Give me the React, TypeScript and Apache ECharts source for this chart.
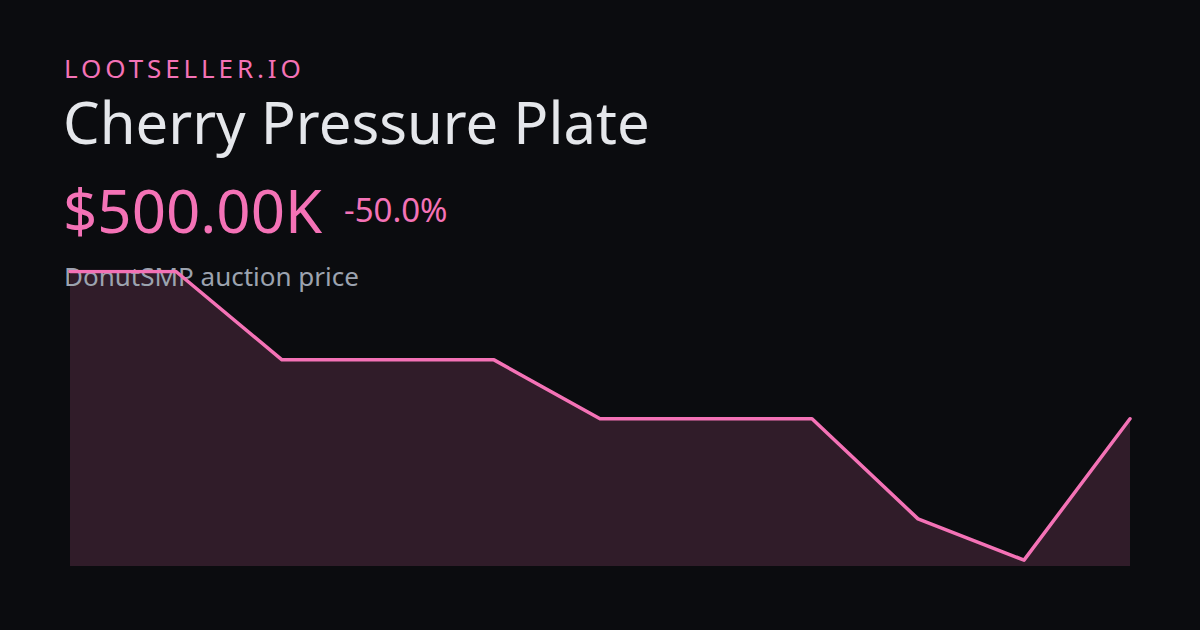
import React, { useEffect, useRef } from "react";
import * as echarts from "echarts";

const categories = ["1", "2", "3", "4", "5", "6", "7", "8", "9", "10", "11"];
const prices = [1000, 1000, 700, 700, 700, 500, 500, 500, 160, 20, 500];

const brand = "LOOTSELLER.IO";
const title = "Cherry Pressure Plate";
const priceLabel = "$500.00K";
const changeLabel = "-50.0%";
const subtitle = "DonutSMP auction price";

const PINK = "#f472b6";
const BG = "#0b0c0f";

export default function App() {
  const ref = useRef<HTMLDivElement>(null);

  useEffect(() => {
    if (!ref.current) return;
    const chart = echarts.init(ref.current, undefined, { renderer: "svg" });
    const font = "'Noto Sans', 'Open Sans', sans-serif";
    chart.setOption({
      animation: false,
      backgroundColor: BG,
      grid: { left: 70, right: 70, top: 271.5, bottom: 64 },
      xAxis: {
        type: "category",
        data: categories,
        boundaryGap: false,
        show: false,
      },
      yAxis: {
        type: "value",
        min: 0,
        max: 1000,
        show: false,
        splitLine: { show: false },
      },
      graphic: [
        {
          type: "text",
          x: 64,
          y: 68,
          z: 2,
          style: {
            text: brand,
            fill: PINK,
            font: `400 26px ${font}`,
            lineHeight: 20,
            verticalAlign: "middle",
          },
        },
        {
          type: "text",
          x: 63,
          y: 121,
          z: 2,
          style: {
            text: title,
            fill: "#e5e7eb",
            font: `400 58px ${font}`,
            lineHeight: 46,
            verticalAlign: "middle",
          },
        },
        {
          type: "text",
          x: 63,
          y: 209.5,
          z: 2,
          style: {
            text: priceLabel,
            fill: PINK,
            font: `400 60px ${font}`,
            lineHeight: 48,
            verticalAlign: "middle",
          },
        },
        {
          type: "text",
          x: 344,
          y: 209.5,
          z: 2,
          style: {
            text: changeLabel,
            fill: PINK,
            font: `400 33px ${font}`,
            lineHeight: 26,
            verticalAlign: "middle",
          },
        },
        {
          type: "text",
          x: 64,
          y: 275.7,
          z: 2,
          style: {
            text: subtitle,
            fill: "#9ca3af",
            font: `400 26px ${font}`,
            lineHeight: 20,
            verticalAlign: "middle",
          },
        },
      ],
      series: [
        {
          type: "line",
          data: prices,
          z: 1,
          symbol: "none",
          lineStyle: { width: 0 },
          areaStyle: { color: "rgba(244,114,182,0.16)", opacity: 1 },
          silent: true,
        },
        {
          type: "line",
          data: prices,
          z: 3,
          symbol: "none",
          lineStyle: { width: 3.5, color: PINK, join: "round", cap: "round" },
          silent: true,
        },
      ],
    });

    const applySpacing = () => {
      const texts = ref.current?.querySelectorAll("text") ?? [];
      texts.forEach((t) => {
        if (t.textContent === brand) {
          (t as SVGTextElement).style.letterSpacing = "3.9px";
        }
      });
    };
    applySpacing();
    chart.on("finished", applySpacing);

    return () => {
      chart.dispose();
    };
  }, []);

  return (
    <div
      ref={ref}
      style={{ width: 1200, height: 630, position: "fixed", left: 0, top: 0 }}
    />
  );
}
